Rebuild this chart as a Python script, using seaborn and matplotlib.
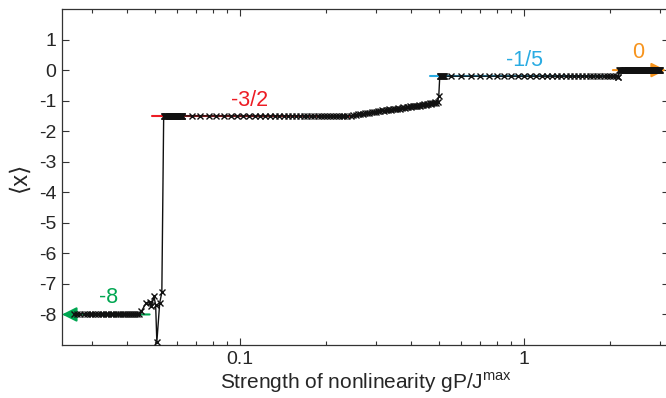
import numpy as np
import pandas as pd
import matplotlib
matplotlib.use('Agg')
import matplotlib.pyplot as plt
import seaborn as sns

# ---- data ----
# plateau at -8 (small g)
x_low = np.arange(0.026, 0.0445, 0.0007)
y_low_level = -7.97

# noisy transition to -3/2
x_trans1 = [0.0449, 0.0467, 0.0480, 0.0487, 0.0497, 0.0504, 0.0509, 0.0521, 0.0530]
y_trans1 = [-7.90, -7.62, -7.59, -7.73, -7.41, -7.68, -8.90, -7.62, -7.28]

# plateau at -3/2 (dense start then coarse grid)
x_mid_dense = np.arange(0.0538, 0.0628, 0.0002)
x_mid = np.arange(0.0675, 0.2425, 0.005)
y_mid_level = -1.5

# slow rise before the jump to -1/5
x_rise = np.arange(0.245, 0.4975, 0.005)
y_rise = [-1.49, -1.48, -1.47, -1.45, -1.44, -1.45, -1.42, -1.40, -1.41, -1.38,
          -1.37, -1.38, -1.34, -1.35, -1.32, -1.33, -1.30, -1.31, -1.28, -1.30,
          -1.27, -1.26, -1.28, -1.24, -1.26, -1.23, -1.22, -1.24, -1.20, -1.22,
          -1.19, -1.21, -1.17, -1.19, -1.16, -1.18, -1.14, -1.16, -1.13, -1.15,
          -1.11, -1.13, -1.10, -1.12, -1.08, -1.11, -1.07, -1.09, -1.05, -1.08,
          -1.04]

x_trans2 = [0.500]
y_trans2 = [-0.85]

# plateau at -1/5
x_blue_dense = np.arange(0.504, 0.522, 0.002)
x_blue = np.arange(0.55, 2.125, 0.05)
y_blue_level = -0.2
x_trans3 = [2.13, 2.14]
y_trans3 = [-0.22, -0.24]

# plateau at 0
x_top = np.arange(2.16, 3.02, 0.01)
y_top_level = 0.0

# guide lines: (label, colour, x start, x end, level)
guides = [
    ('-8', '#00a651', 0.0236, 0.048, -8.0),
    ('-3/2', '#ed1c24', 0.0489, 0.2565, -1.5),
    ('-1/5', '#29abe2', 0.465, 2.05, -0.2),
    ('0', '#f7941d', 2.05, 3.15, 0.0),
]
label_pos = {'-8': (0.0344, -7.45), '-3/2': (0.108, -0.98),
             '-1/5': (1.0, 0.33), '0': (2.51, 0.56)}

# assemble the curve
xs = np.concatenate([x_low, x_trans1, x_mid_dense, x_mid, x_rise, x_trans2,
                     x_blue_dense, x_blue, x_trans3, x_top])
ys = np.concatenate([np.full(len(x_low), y_low_level), y_trans1,
                     np.full(len(x_mid_dense), y_mid_level),
                     np.full(len(x_mid), y_mid_level), y_rise, y_trans2,
                     np.full(len(x_blue_dense), y_blue_level),
                     np.full(len(x_blue), y_blue_level), y_trans3,
                     np.full(len(x_top), y_top_level)])
df = pd.DataFrame({'g': xs, 'x': ys})

# ---- styling ----
sns.set_theme(style='ticks')
plt.rcParams['font.family'] = ['Liberation Sans', 'DejaVu Sans']
plt.rcParams['mathtext.fontset'] = 'custom'
plt.rcParams['mathtext.rm'] = 'Liberation Sans'
plt.rcParams['axes.unicode_minus'] = False

fig = plt.figure(figsize=(6.66, 3.98), dpi=100)
ax = fig.add_axes([62 / 666, 53 / 398, (669 - 62) / 666, (345 - 9) / 398])

# coloured guide lines
for lab, col, x0, x1, lev in guides:
    if lab in ('-8', '0'):
        if lab == '-8':
            tip, tail = x0, x1
        else:
            tip, tail = x1, x0
        ax.annotate('', xy=(tip, lev), xytext=(tail, lev),
                    arrowprops=dict(arrowstyle='-|>', color=col, lw=1.5,
                                    mutation_scale=22, shrinkA=0, shrinkB=0),
                    annotation_clip=False, zorder=3)
    else:
        ax.plot([x0, x1], [lev, lev], color=col, lw=1.5, zorder=3)
    tx, ty = label_pos[lab]
    ax.text(tx, ty, lab, color=col, fontsize=15.5, ha='center', va='center')

sns.lineplot(data=df, x='g', y='x', ax=ax, color='#111111', lw=1.0,
             marker='x', markersize=4.2, markeredgewidth=1.0,
             markeredgecolor='#111111', sort=False, zorder=4)

ax.set_xscale('log')
ax.set_xlim(0.0236, 3.23)
ax.set_ylim(-9, 2)
ax.set_yticks(range(-8, 2))
ax.set_xticks([0.1, 1])
ax.set_xticklabels(['0.1', '1'])
ax.tick_params(direction='in', top=True, right=True, labelsize=14,
               length=5, width=0.8, color='#333333', pad=4)
ax.tick_params(which='minor', direction='in', top=True, right=True,
               length=3, width=0.8, color='#333333')
for s in ax.spines.values():
    s.set_color('#333333')
    s.set_linewidth(0.9)

ax.set_xlabel(r'Strength of nonlinearity gP/J$^{\rm max}$', fontsize=15, labelpad=2)
ax.set_ylabel('⟨x⟩', fontsize=17, labelpad=6)

fig.savefig('out.png', dpi=100)
